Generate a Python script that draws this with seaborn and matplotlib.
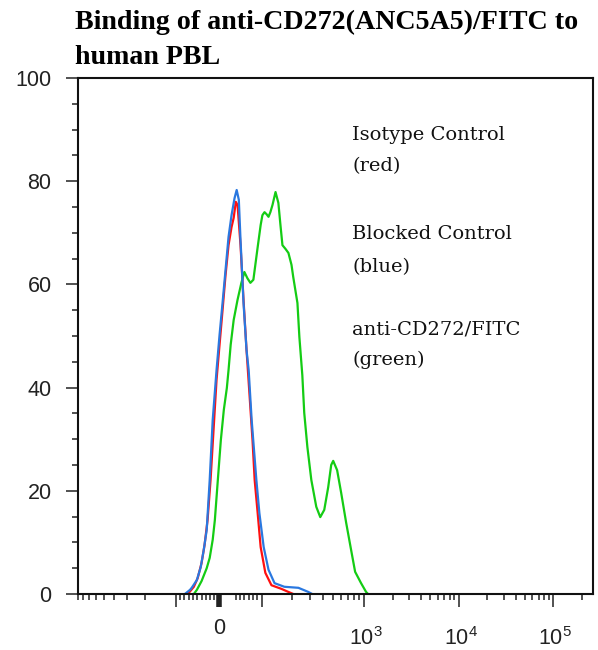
import numpy as np
import pandas as pd
import matplotlib
matplotlib.use("Agg")
import matplotlib.pyplot as plt
import matplotlib.transforms as mtransforms
import seaborn as sns

# fluorescence intensity (FITC) and % of max
iso_x = [-72, -58, -49, -40, -33, -26, -19, -12, -5, 2, 9, 16, 23, 30, 35, 40, 44, 51,
         58, 65, 72, 79, 84, 91, 98, 109, 125, 156, 183, 204]
iso_y = [0, 1.4, 3.1, 6.0, 9.5, 14.3, 22.1, 31.8, 41.5, 48.3, 55.0, 61.8, 67.6, 71.1,
         72.9, 76.0, 75.4, 67.6, 57.0, 47.3, 38.6, 29.8, 22.1, 15.7, 9.1, 4.1, 1.7, 1.0, 0.4, 0]

blk_x = [-79, -67, -63, -51, -42, -35, -28, -21, -14, -5, 2, 9, 16, 23, 30, 37, 42, 47,
         51, 58, 65, 70, 77, 88, 95, 105, 117, 134, 167, 229, 286, 312]
blk_y = [0, 0.8, 1.2, 2.7, 5.2, 8.5, 12.4, 22.1, 33.7, 43.4, 50.2, 56.4, 62.8, 69.2,
         73.4, 76.7, 78.3, 76.4, 68.6, 56.4, 47.3, 43.4, 33.7, 22.1, 15.7, 9.1, 4.7, 2.1,
         1.4, 1.2, 0.4, 0]

fitc_x = [-58, -51, -40, -28, -21, -14, -9, -2, 5, 12, 19, 23, 28, 35, 44, 53, 60, 67, 74,
          81, 91, 98, 102, 107, 112, 117, 122, 128, 137, 146, 153, 160, 171, 183, 196, 204,
          224, 234, 250, 261, 280, 306, 342, 374, 409, 447, 478, 500, 546, 598, 669, 748,
          818, 935, 1050, 1102]
fitc_y = [0, 0.8, 2.5, 5.0, 7.0, 10.5, 14.3, 22.1, 29.8, 35.7, 39.9, 43.4, 48.3, 53.1,
          57.0, 60.3, 62.4, 61.2, 60.3, 60.9, 67.2, 71.5, 73.4, 74.0, 73.6, 73.1, 74.0,
          75.4, 77.9, 75.8, 71.5, 67.6, 66.9, 66.1, 63.8, 61.4, 56.4, 49.8, 42.4, 35.1,
          28.5, 22.1, 16.9, 14.9, 16.3, 20.7, 25.0, 25.8, 24.0, 19.6, 13.8, 8.5, 4.3,
          2.1, 0.4, 0]

labels = ["Isotype Control", "(red)", "Blocked Control", "(blue)",
          "anti-CD272/FITC", "(green)"]
title_lines = ["Binding of anti-CD272(ANC5A5)/FITC to", "human PBL"]

long_x = [-100, 0, 100, 1000, 10000, 100000]
long_x_labels = {0: "0", 1000: "$10^3$", 10000: "$10^4$", 100000: "$10^5$"}
short_x = ([-v for v in range(200, 1000, 100)] + [-v for v in range(10, 100, 10)]
           + list(range(40, 100, 10)) + list(range(200, 1000, 100))
           + list(range(2000, 10000, 1000)) + list(range(20000, 100000, 10000)) + [200000])


# biexponential-like display: linear around zero, log further out
def fwd(x):
    x = np.asarray(x, dtype=float)
    a = np.abs(x)
    lin = 0.43 * a
    mid = 43 + 103 * np.log10(np.maximum(a, 100) / 100)
    high = 146 + 95 * np.log10(np.maximum(a, 1000) / 1000)
    return np.sign(x) * np.where(a <= 100, lin, np.where(a <= 1000, mid, high))


def inv(y):
    y = np.asarray(y, dtype=float)
    b = np.abs(y)
    lin = b / 0.43
    mid = 100 * 10 ** ((np.clip(b, 43, 146) - 43) / 103)
    high = 1000 * 10 ** ((np.clip(b, 146, 800) - 146) / 95)
    return np.sign(y) * np.where(b <= 43, lin, np.where(b <= 146, mid, high))


sns.set_style("ticks")
plt.rcParams["font.family"] = ["Liberation Sans", "DejaVu Sans"]
plt.rcParams["mathtext.fontset"] = "custom"
plt.rcParams["mathtext.rm"] = "Liberation Sans"
plt.rcParams["mathtext.it"] = "Liberation Sans"

fig = plt.figure(figsize=(5.98, 6.5), dpi=100)
ax = fig.add_axes([78 / 598, 1 - 594 / 650, 515 / 598, 516 / 650])

ax.set_xscale("function", functions=(fwd, inv))

df = pd.concat([
    pd.DataFrame({"x": iso_x, "y": iso_y, "s": "iso"}),
    pd.DataFrame({"x": blk_x, "y": blk_y, "s": "blk"}),
    pd.DataFrame({"x": fitc_x, "y": fitc_y, "s": "fitc"}),
])
pal = {"iso": "#ff1010", "blk": "#2a78e0", "fitc": "#14cc14"}
for key in ["iso", "fitc", "blk"]:
    sub = df[df["s"] == key]
    sns.lineplot(data=sub, x="x", y="y", color=pal[key], linewidth=1.6, ax=ax,
                 sort=False, estimator=None)

ax.set_xlim(-855, 263000)
ax.set_ylim(0, 100)
ax.set_xlabel("")
ax.set_ylabel("")

# long x ticks as major, short ones as minor
ax.xaxis.remove_overlapping_locs = False
ax.set_xticks(long_x)
ax.set_xticklabels([long_x_labels.get(v, "") for v in long_x])
ax.set_xticks(sorted(short_x), minor=True)
ax.set_yticks(range(0, 101, 20))
ax.set_yticks(range(0, 101, 5), minor=True)

ax.tick_params(axis="both", which="major", length=9, width=1.1, direction="out",
               labelsize=15.5, colors="#222222", pad=8)
ax.tick_params(axis="both", which="minor", length=4.5, width=1.1, direction="out",
               colors="#222222")
ax.tick_params(axis="y", which="major", pad=10)

down = mtransforms.ScaledTranslation(2 / 100, -9 / 100, fig.dpi_scale_trans)
for v, tick in zip(long_x, ax.xaxis.get_major_ticks()):
    if v == 0:
        tick.tick1line.set_markeredgewidth(4)
    if v >= 1000:
        tick.label1.set_transform(tick.label1.get_transform() + down)
for tick in ax.xaxis.get_minor_ticks():
    tick.tick1line.set_snap(False)

for sp in ax.spines.values():
    sp.set_visible(True)
    sp.set_linewidth(1.5)
    sp.set_color("#111111")

text_y = [135, 166, 234, 267, 329, 360]
for lab, ty in zip(labels, text_y):
    ax.text((352 - 78) / 515, (594 - ty) / 516, lab, transform=ax.transAxes,
            ha="left", va="center", fontsize=14, family="DejaVu Serif", color="#111111")

fig.text(75 / 598, 1 - 22 / 650, title_lines[0], ha="left", va="center", color="black",
         fontsize=20.2, fontweight="bold", family="Liberation Serif")
fig.text(75 / 598, 1 - 58 / 650, title_lines[1], ha="left", va="center", color="black",
         fontsize=20.2, fontweight="bold", family="Liberation Serif")

fig.savefig("out.png", dpi=100)
